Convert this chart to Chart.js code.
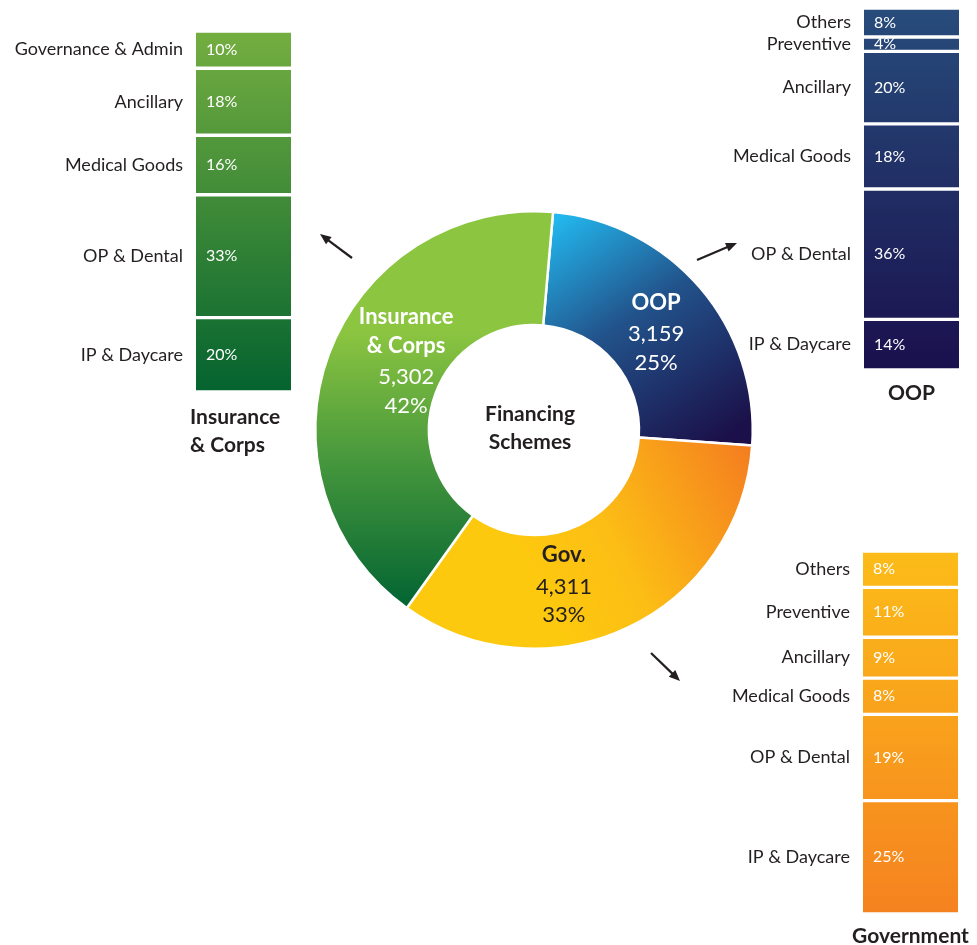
<!DOCTYPE html>
<html>
<head>
<meta charset="utf-8">
<script src="https://cdn.jsdelivr.net/npm/chart.js@4.4.1/dist/chart.umd.min.js"></script>
<style>
  html, body { margin: 0; padding: 0; background: #ffffff; }
  #page { position: relative; width: 977px; height: 945px; overflow: hidden; }
  #page canvas { position: absolute; }
</style>
</head>
<body>
<div id="page">
  <canvas id="chartDonut" width="480" height="500" style="left:294px;top:190px"></canvas>
  <canvas id="chartInsurance" width="300" height="430" style="left:0px;top:31px"></canvas>
  <canvas id="chartOOP" width="287" height="400" style="left:690px;top:8px"></canvas>
  <canvas id="chartGov" width="287" height="394" style="left:690px;top:551px"></canvas>
</div>
<script>
// Financing schemes (doughnut)
const schemeLabels = ['OOP', 'Gov.', 'Insurance\n& Corps'];
const schemeValues = [3159, 4311, 5302];
const schemeShares = ['25%', '33%', '42%'];

// Breakdown by function, top to bottom as shown
const insuranceCats = ['Governance & Admin', 'Ancillary', 'Medical Goods', 'OP & Dental', 'IP & Daycare'];
const insuranceShares = [10, 18, 16, 33, 20];

const oopCats = ['Others', 'Preventive', 'Ancillary', 'Medical Goods', 'OP & Dental', 'IP & Daycare'];
const oopShares = [8, 4, 20, 18, 36, 14];

const govCats = ['Others', 'Preventive', 'Ancillary', 'Medical Goods', 'OP & Dental', 'IP & Daycare'];
const govShares = [8, 11, 9, 8, 19, 25];

const FONT = 'Lato, "Open Sans", sans-serif';
const INK = '#231f20';

Chart.defaults.font.family = FONT;
Chart.defaults.animation = false;

// ---------- doughnut ----------
function donutGeom(chart) {
    const a = chart.chartArea;
    return { cx: (a.left + a.right) / 2, cy: (a.top + a.bottom) / 2, r: Math.min(a.right - a.left, a.bottom - a.top) / 2 };
}

function arcFill(ctx) {
    const chart = ctx.chart;
    if (!chart.chartArea) return '#888';
    const { cx, cy, r } = donutGeom(chart);
    const c = chart.ctx;
    let g;
    if (ctx.dataIndex === 0) { // OOP
        g = c.createLinearGradient(cx + 0.15 * r, cy - 1.0 * r, cx + 0.85 * r, cy + 0.05 * r);
        g.addColorStop(0, '#22b8ee');
        g.addColorStop(0.45, '#22528a');
        g.addColorStop(1, '#1b1049');
    } else if (ctx.dataIndex === 1) { // Gov
        g = c.createLinearGradient(cx - 0.05 * r, cy + 0.6 * r, cx + 1.0 * r, cy + 0.05 * r);
        g.addColorStop(0, '#fdc90e');
        g.addColorStop(0.35, '#fcbd15');
        g.addColorStop(1, '#f47b20');
    } else { // Insurance
        g = c.createLinearGradient(cx, cy - 0.45 * r, cx, cy + 0.78 * r);
        g.addColorStop(0, '#8cc540');
        g.addColorStop(0.45, '#4a9a3d');
        g.addColorStop(1, '#056633');
    }
    return g;
}

function drawArrow(c, x1, y1, x2, y2) {
    const ang = Math.atan2(y2 - y1, x2 - x1);
    const head = 12;
    c.save();
    c.strokeStyle = INK;
    c.fillStyle = INK;
    c.lineWidth = 2.2;
    c.beginPath();
    c.moveTo(x1, y1);
    c.lineTo(x2 - Math.cos(ang) * head * 0.7, y2 - Math.sin(ang) * head * 0.7);
    c.stroke();
    c.beginPath();
    c.moveTo(x2, y2);
    c.lineTo(x2 - head * Math.cos(ang - 0.4), y2 - head * Math.sin(ang - 0.4));
    c.lineTo(x2 - head * Math.cos(ang + 0.4), y2 - head * Math.sin(ang + 0.4));
    c.closePath();
    c.fill();
    c.restore();
}

const donutText = {
    id: 'donutText',
    afterDatasetsDraw(chart) {
        const c = chart.ctx;
        const { cx, cy, r } = donutGeom(chart);
        const k = r / 220;
        const meta = chart.getDatasetMeta(0);
        c.save();
        c.textAlign = 'center';
        c.textBaseline = 'middle';

        // centre title
        c.fillStyle = INK;
        c.font = 'bold 21px ' + FONT;
        c.fillText('Financing', cx - 4, cy - 16);
        c.fillText('Schemes', cx - 4, cy + 12);

        const nudge = [[-1, 6], [-39, 7], [24, -14]];
        meta.data.forEach((arc, i) => {
            const p = arc.tooltipPosition();
            const x = p.x + nudge[i][0];
            const y = p.y + nudge[i][1];
            const nameLines = schemeLabels[i].split('\n');
            const lines = [];
            nameLines.forEach(t => lines.push({ t, bold: true }));
            lines.push({ t: schemeValues[i].toLocaleString('en-US'), bold: false });
            lines.push({ t: schemeShares[i], bold: false });
            const step = 28.5;
            const y0 = y - (lines.length - 1) * step / 2;
            c.fillStyle = i === 1 ? INK : '#ffffff';
            lines.forEach((ln, j) => {
                c.font = (ln.bold ? 'bold ' : '') + '22px ' + FONT;
                c.fillText(ln.t, x, y0 + j * step + (ln.bold ? 0 : 3));
            });
        });
        c.restore();

        // pointers to the breakdown columns
        drawArrow(c, cx - 182 * k, cy - 172 * k, cx - 214 * k, cy - 196 * k);
        drawArrow(c, cx + 163 * k, cy - 170 * k, cx + 203 * k, cy - 187 * k);
        drawArrow(c, cx + 117 * k, cy + 223 * k, cx + 146 * k, cy + 251 * k);
    }
};

new Chart(document.getElementById('chartDonut'), {
    type: 'doughnut',
    data: {
        labels: schemeLabels,
        datasets: [{
            data: schemeValues,
            backgroundColor: arcFill,
            borderColor: '#ffffff',
            borderWidth: 2.5,
            hoverOffset: 0
        }]
    },
    options: {
        responsive: false,
        rotation: 5,
        cutout: '48%',
        events: [],
        layout: { padding: { left: 20, right: 20, top: 20, bottom: 40 } },
        plugins: { legend: { display: false }, tooltip: { enabled: false } }
    },
    plugins: [donutText]
});

// ---------- breakdown columns ----------
function makeBreakdown(canvasId, cats, shares, topColor, bottomColor, title, pad, titleCfg) {
    // datasets are stacked bottom-up, so reverse the top-to-bottom lists
    const order = cats.map((_, i) => i).reverse();
    const total = shares.reduce((a, b) => a + b, 0);

    const fill = function(ctx) {
        const chart = ctx.chart;
        const a = chart.chartArea;
        if (!a) return topColor;
        const g = chart.ctx.createLinearGradient(0, a.top, 0, a.bottom);
        g.addColorStop(0, topColor);
        g.addColorStop(1, bottomColor);
        return g;
    };

    const labelsPlugin = {
        id: 'sideLabels',
        afterDatasetsDraw(chart) {
            const c = chart.ctx;
            const a = chart.chartArea;
            c.save();
            c.textBaseline = 'middle';
            chart.data.datasets.forEach((ds, i) => {
                const el = chart.getDatasetMeta(i).data[0];
                const { y, base } = el.getProps(['y', 'base'], true);
                const mid = (y + base) / 2;
                c.font = '18px ' + FONT;
                c.fillStyle = INK;
                c.textAlign = 'right';
                c.fillText(ds.label, a.left - 13, mid);
                c.fillStyle = '#ffffff';
                c.textAlign = 'left';
                c.font = '16px ' + FONT;
                c.fillText(ds.data[0] + '%', a.left + 10, mid);
            });
            // column title
            c.fillStyle = INK;
            c.font = 'bold 21px ' + FONT;
            c.textAlign = titleCfg.align;
            const tx = titleCfg.align === 'center' ? (a.left + a.right) / 2 : a.left + titleCfg.dx;
            title.forEach((t, j) => c.fillText(t, tx, a.bottom + titleCfg.dy + j * 28));
            c.restore();
        }
    };

    return new Chart(document.getElementById(canvasId), {
        type: 'bar',
        data: {
            labels: [''],
            datasets: order.map(i => ({
                label: cats[i],
                data: [shares[i]],
                backgroundColor: fill,
                borderColor: '#ffffff',
                borderWidth: { top: 2, bottom: 2, left: 0, right: 0 },
                borderSkipped: false,
                barPercentage: 1,
                categoryPercentage: 1
            }))
        },
        options: {
            responsive: false,
            events: [],
            layout: { padding: pad },
            scales: {
                x: { stacked: true, display: false },
                y: { stacked: true, display: false, min: 0, max: total }
            },
            plugins: { legend: { display: false }, tooltip: { enabled: false } }
        },
        plugins: [labelsPlugin]
    });
}

makeBreakdown('chartInsurance', insuranceCats, insuranceShares, '#74ae40', '#04632f',
    ['Insurance', '& Corps'], { left: 196, right: 9, top: 0, bottom: 69 }, { align: 'left', dx: -6, dy: 25 });

makeBreakdown('chartOOP', oopCats, oopShares, '#274c7b', '#1a104e',
    ['OOP'], { left: 174, right: 18, top: 0, bottom: 38 }, { align: 'center', dx: 0, dy: 23 });

makeBreakdown('chartGov', govCats, govShares, '#fcbc18', '#f58220',
    ['Government'], { left: 173, right: 19, top: 0, bottom: 31 }, { align: 'center', dx: 0, dy: 22 });
</script>
</body>
</html>
